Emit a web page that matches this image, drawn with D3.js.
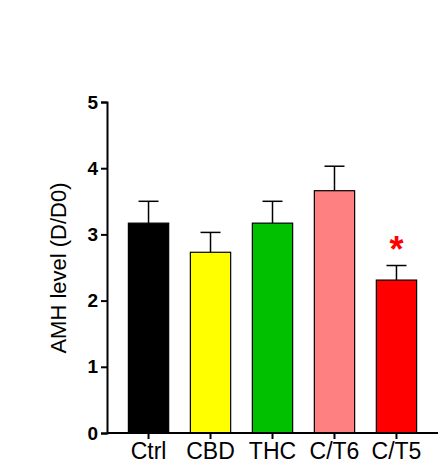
<!DOCTYPE html><html><head><meta charset="utf-8"><script src="https://cdn.jsdelivr.net/npm/d3@7"></script>
<style>body{margin:0;background:#fff}</style></head><body><svg id="c" width="446" height="471"></svg>
<script>
const categories=["Ctrl","CBD","THC","C/T6","C/T5"];
const means=[3.17,2.73,3.17,3.66,2.31];
const errors=[0.33,0.30,0.33,0.37,0.22];
const colors=["#000000","#ffff00","#00c000","#ff8080","#ff0000"];
const yTicks=[0,1,2,3,4,5];
const sig=["","","","","*"];
const svg=d3.select("#c");
const F="Liberation Sans, Arial, sans-serif";
const x=d3.scaleBand().domain(categories).range([107,438]).paddingInner(0.35).paddingOuter(0.345);
const y=d3.scaleLinear().domain([0,5]).range([433,102]);
const g=svg.append("g");
categories.forEach((c,i)=>{
  const cx=x(c)+x.bandwidth()/2;
  g.append("line").attr("x1",cx).attr("x2",cx).attr("y1",y(means[i])).attr("y2",y(means[i]+errors[i])).attr("stroke","#000").attr("stroke-width",1.5);
  g.append("line").attr("x1",cx-10).attr("x2",cx+10).attr("y1",y(means[i]+errors[i])).attr("y2",y(means[i]+errors[i])).attr("stroke","#000").attr("stroke-width",1.5);
  g.append("rect").attr("x",x(c)).attr("y",y(means[i])).attr("width",x.bandwidth()).attr("height",y(0)-y(means[i])).attr("fill",colors[i]).attr("stroke","#000").attr("stroke-width",1.2);
  if(sig[i]) g.append("text").attr("x",cx).attr("y",y(means[i]+errors[i])-4).attr("text-anchor","middle").attr("fill","#ff0000").style("font-family",F).style("font-weight","bold").style("font-size","36px").text(sig[i]);
});
const ya=svg.append("g").attr("transform","translate(107,0)").call(d3.axisLeft(y).tickValues(yTicks).tickFormat(d3.format("d")).tickSizeOuter(0).tickSize(6));
ya.selectAll("text").style("font-family",F).style("font-weight","bold").style("font-size","19px").attr("fill","#000").attr("x",-9);
const xa=svg.append("g").attr("transform","translate(0,433)").call(d3.axisBottom(x).tickSizeOuter(0).tickSize(6));
xa.select(".domain").attr("d","M107,0H438");
xa.selectAll("text").style("font-family",F).style("font-size","23px").attr("fill","#000").attr("y",8).attr("dy","0.8em");
svg.selectAll(".domain,.tick line").attr("stroke","#000").attr("stroke-width",2);
svg.append("text").attr("transform","translate(66,268) rotate(-90)").attr("text-anchor","middle").style("font-family",F).style("font-size","22px").text("AMH level (D/D0)");
</script></body></html>
